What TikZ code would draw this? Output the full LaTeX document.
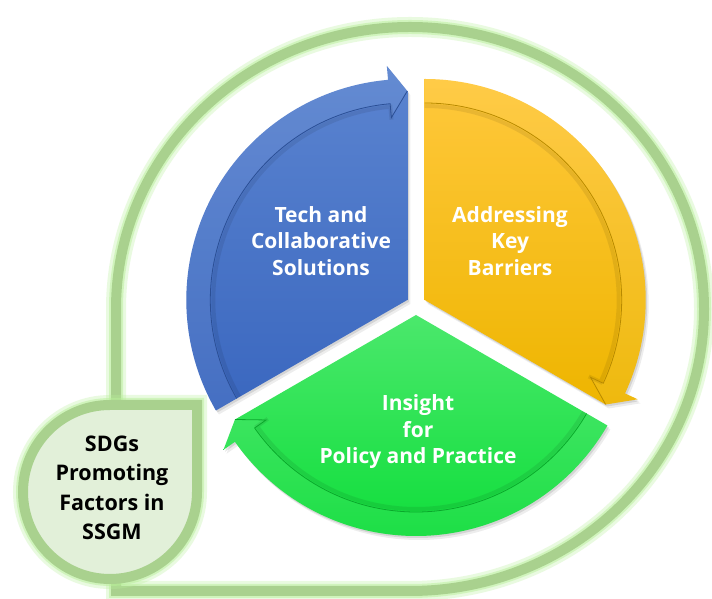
\documentclass[tikz,border=0pt]{standalone}
\usepackage{fontspec}
\setmainfont{Open Sans}
\definecolor{frameG}{HTML}{A9D18E}
\definecolor{glowG}{HTML}{B9F09A}
\definecolor{dropFill}{HTML}{E2F0D9}
\definecolor{bTop}{HTML}{5B84D0}
\definecolor{bBot}{HTML}{3A67BF}
\definecolor{bDark}{HTML}{2B4F95}
\definecolor{oTop}{HTML}{FFC83C}
\definecolor{oBot}{HTML}{EEB500}
\definecolor{oDark}{HTML}{B88A00}
\definecolor{gTop}{HTML}{4BE86C}
\definecolor{gBot}{HTML}{10DE3B}
\definecolor{gDark}{HTML}{0AA82B}
\tikzset{
  lbl/.style={text=white, align=center, font=\fontsize{21}{26.5}\selectfont\bfseries, inner sep=0pt},
  sdg/.style={text=black, align=center, font=\fontsize{21.5}{29.5}\selectfont\bfseries, inner sep=0pt},
  frameline/.style={draw=frameG, line width=10pt, line join=miter},
  glowA/.style={draw=glowG, opacity=0.3, line width=20pt, line join=miter},
  glowB/.style={draw=glowG, opacity=0.5, line width=14pt, line join=miter}
}
% #1 cx, #2 cy, #3 tail angle, #4 head angle, #5 head base angle, #6 top, #7 bottom, #8 dark
\newcommand{\drawseg}[8]{%
  \begin{scope}[shift={(#1,#2)}]
    \fill[black,opacity=0.07,shift={(3pt,-4pt)}] (0,0) -- (#3:221pt) arc[start angle=#3,end angle=#5,radius=221pt] -- (#5:235pt) -- (#4:209pt) -- cycle;
    \fill[black,opacity=0.10,shift={(1.5pt,-2pt)}] (0,0) -- (#3:221pt) arc[start angle=#3,end angle=#5,radius=221pt] -- (#5:235pt) -- (#4:209pt) -- cycle;
    \shade[top color=#6,bottom color=#7] (0,0) -- (#3:221pt) arc[start angle=#3,end angle=#5,radius=221pt] -- (#5:235pt) -- (#4:209pt) -- cycle;
    \fill[white,opacity=0.06] (#3:221pt) arc[start angle=#3,end angle=#5,radius=221pt] -- (#5:235pt) -- (#4:209pt) -- (#5:183pt) -- (#5:197pt) arc[start angle=#5,end angle=#3,radius=197pt] -- cycle;
    \draw[black,opacity=0.08,line width=4pt] (#3:194pt) arc[start angle=#3,end angle=#5,radius=194pt] -- (#5:181pt);
    \draw[#8,line width=0.8pt] (#3:197pt) arc[start angle=#3,end angle=#5,radius=197pt] -- (#5:183pt) -- (#4:209pt);
  \end{scope}}
\begin{document}
\begin{tikzpicture}[x=1pt,y=1pt]
\useasboundingbox (0,0) rectangle (712,599);
\fill[white] (0,0) rectangle (712,599);
% outer frame
\path[glowA] (116,290) arc[start angle=180,end angle=-90,x radius=294pt,y radius=282pt] -- (116,8) -- cycle;
\path[glowB] (116,290) arc[start angle=180,end angle=-90,x radius=294pt,y radius=282pt] -- (116,8) -- cycle;
\path[frameline] (116,290) arc[start angle=180,end angle=-90,x radius=294pt,y radius=282pt] -- (116,8) -- cycle;
% segments
\drawseg{407.3}{299}{210}{90}{95}{bTop}{bBot}{bDark}
\drawseg{424.7}{299}{90}{-30}{-25}{oTop}{oBot}{oDark}
\drawseg{416}{284}{330}{210}{215}{gTop}{gBot}{gDark}
% teardrop
\path[glowA] (197,107) arc[start angle=0,end angle=-270,radius=87pt] -- (197,194) -- cycle;
\path[glowB] (197,107) arc[start angle=0,end angle=-270,radius=87pt] -- (197,194) -- cycle;
\path[frameline, fill=dropFill] (197,107) arc[start angle=0,end angle=-270,radius=87pt] -- (197,194) -- cycle;
% labels
\node[lbl] (tech) at (321,358) {Tech and\\Collaborative\\Solutions};
\node[lbl] (addr) at (510,358) {Addressing\\Key\\Barriers};
\node[lbl] (ins) at (418,167) {Insight\\for\\Policy and Practice};
\node[sdg] (sdg) at (112,111) {SDGs\\Promoting\\Factors in\\SSGM};
\end{tikzpicture}
\end{document}
